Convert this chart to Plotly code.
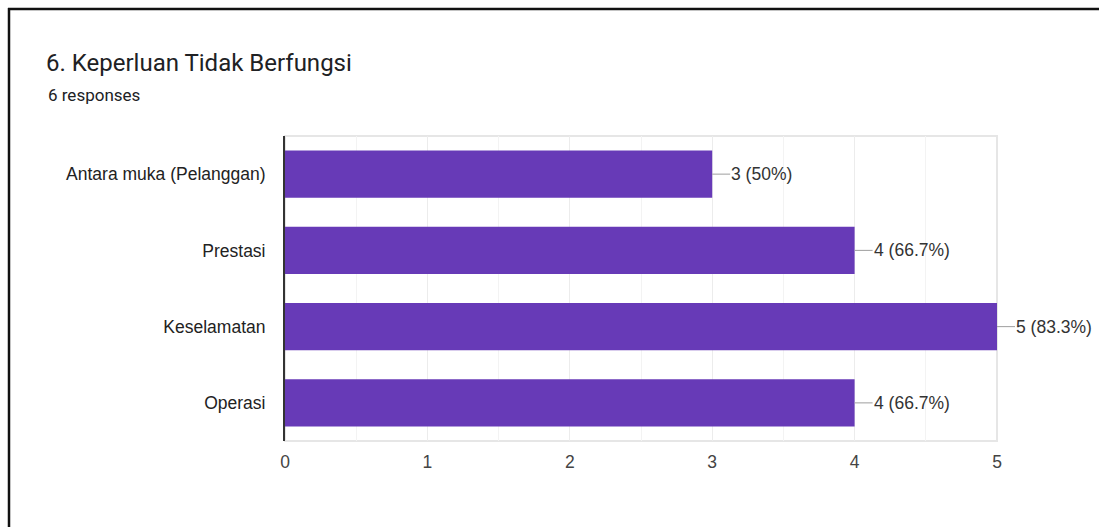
import plotly.graph_objects as go

categories = ["Antara muka (Pelanggan)", "Prestasi", "Keselamatan", "Operasi"]
counts = [3, 4, 5, 4]
labels = ["3 (50%)", "4 (66.7%)", "5 (83.3%)", "4 (66.7%)"]
x_ticks = [0, 1, 2, 3, 4, 5]

W, H = 1099, 527
L, R, T, B = 285, 102, 136, 86
pw, ph = W - L - R, H - T - B

def px_x(p):
    return (p - L) / pw

def px_y(p):
    return (H - B - p) / ph

fig = go.Figure()
fig.add_trace(go.Bar(
    y=categories, x=counts, orientation="h",
    marker=dict(color="#673ab7", line=dict(width=0)),
    width=0.62, hoverinfo="skip",
))

for c, v, t in zip(categories, counts, labels):
    fig.add_annotation(
        x=v, y=c, xref="x", yref="y", text=t, showarrow=True,
        arrowhead=0, arrowwidth=1, arrowcolor="#9e9e9e", ax=18, ay=0,
        xanchor="left", font=dict(family="Liberation Sans, Arial", size=17.5, color="#333333"),
        borderpad=0,
    )

fig.add_annotation(
    x=px_x(46), y=px_y(95), xref="paper", yref="paper", text="6 responses",
    showarrow=False, xanchor="left", yanchor="middle",
    font=dict(family="Roboto", size=17, color="#202124"),
)

# plot border (light gray)
fig.add_shape(type="rect", xref="paper", yref="paper", x0=0, x1=1, y0=0, y1=1,
              line=dict(color="#e6e6e6", width=2), layer="below")
# outer black frame
fig.add_shape(type="line", xref="paper", yref="paper", x0=px_x(9), x1=px_x(9),
              y0=px_y(8), y1=px_y(H + 5), line=dict(color="#111111", width=2.5))
fig.add_shape(type="line", xref="paper", yref="paper", x0=px_x(8), x1=px_x(W + 5),
              y0=px_y(9), y1=px_y(9), line=dict(color="#111111", width=2.5))

fig.update_layout(
    width=W, height=H,
    margin=dict(l=L, r=R, t=T, b=B),
    paper_bgcolor="white", plot_bgcolor="white",
    showlegend=False,
    title=dict(text="6. Keperluan Tidak Berfungsi", xref="container", yref="container",
               x=46 / W, y=1 - 63 / H, xanchor="left", yanchor="middle",
               font=dict(family="Roboto", size=24, color="#202124")),
    xaxis=dict(range=[0, 5], tickvals=x_ticks, ticktext=[str(v) for v in x_ticks],
               showgrid=True, gridcolor="#ececec", gridwidth=1,
               minor=dict(dtick=0.5, showgrid=True, gridcolor="#f3f3f3"),
               zeroline=False, showline=False, ticks="",
               tickfont=dict(family="Liberation Sans, Arial", size=17.5, color="#444444"),
               ticklabelstandoff=8, fixedrange=True),
    yaxis=dict(autorange="reversed", showgrid=False, zeroline=False,
               showline=True, linecolor="#333333", linewidth=2, ticks="",
               tickfont=dict(family="Liberation Sans, Arial", size=17.5, color="#222222"),
               ticklabelstandoff=14, fixedrange=True),
    bargap=0.38,
)

fig.write_html("out.html")
